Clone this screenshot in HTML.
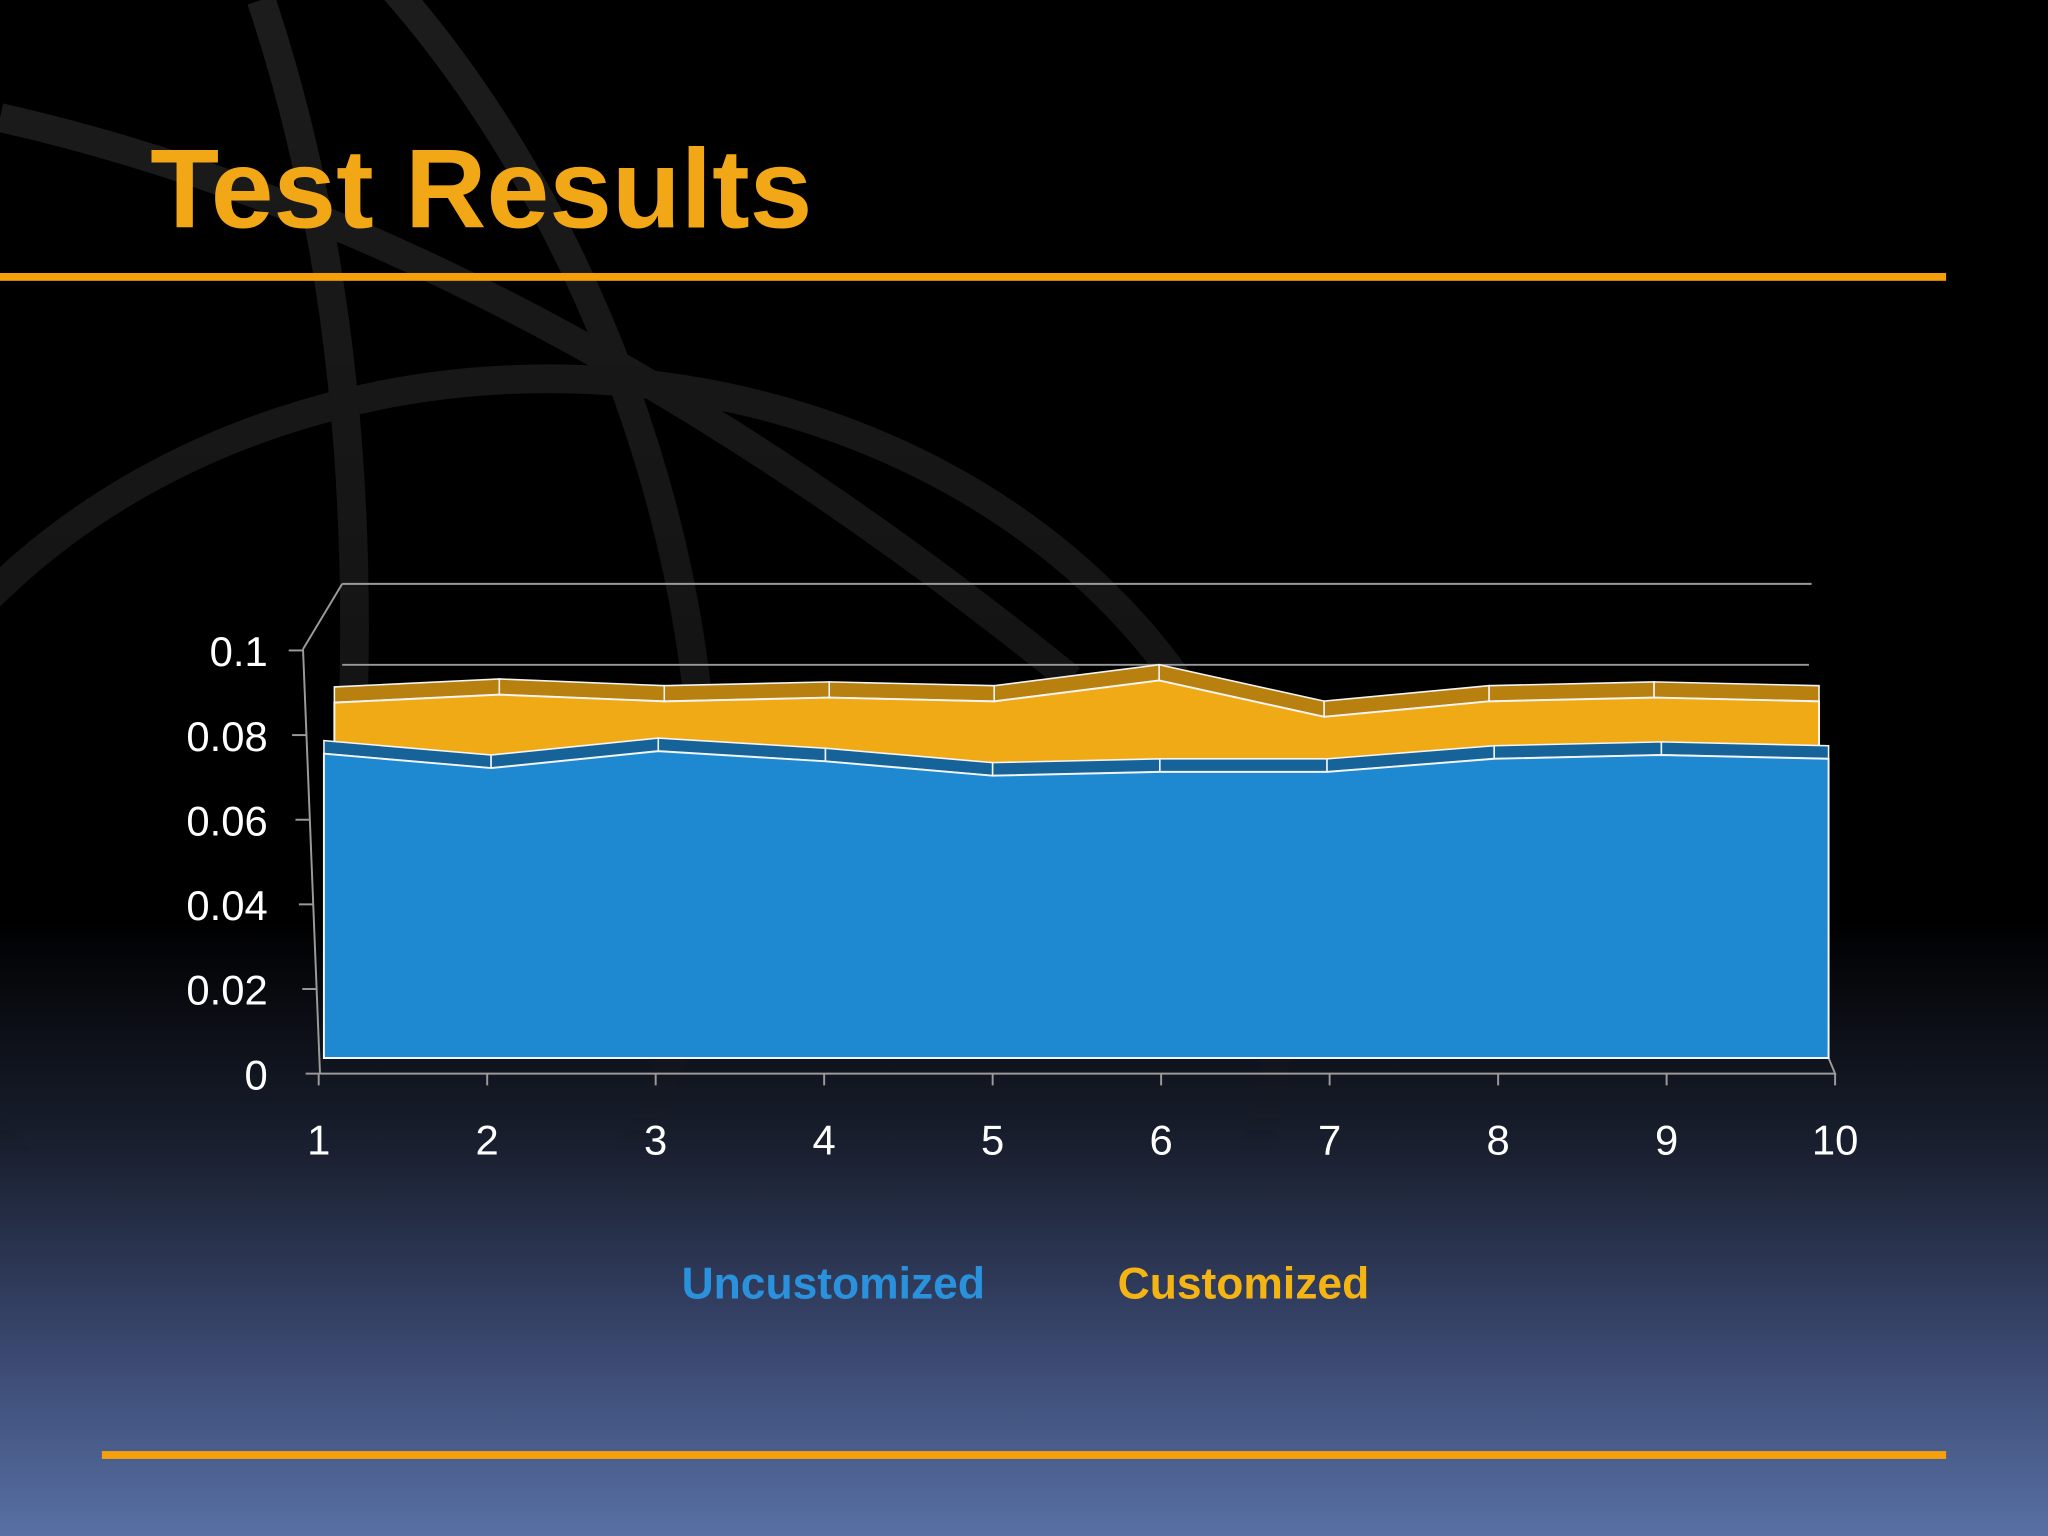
<!DOCTYPE html>
<html><head><meta charset="utf-8"><style>
html,body{margin:0;padding:0;background:#000;width:2048px;height:1536px;overflow:hidden;}
svg{display:block;}
</style></head><body>
<svg id="chart" xmlns="http://www.w3.org/2000/svg" width="2048" height="1536" viewBox="0 0 1568 1176">
<defs>
<linearGradient id="bg" x1="0" y1="0" x2="0" y2="1">
<stop offset="0" stop-color="#000"/>
<stop offset="0.6" stop-color="#000"/>
<stop offset="0.75" stop-color="#1a2030"/>
<stop offset="0.88" stop-color="#3a4870"/>
<stop offset="1" stop-color="#5870a4"/>
</linearGradient>
<linearGradient id="fade" x1="0" y1="0" x2="0" y2="1">
<stop offset="0" stop-color="#fff" stop-opacity="1"/>
<stop offset="0.6" stop-color="#fff" stop-opacity="0.6"/>
<stop offset="0.75" stop-color="#fff" stop-opacity="0"/>
</linearGradient>
<mask id="arcmask"><rect x="0" y="0" width="1568" height="1176" fill="url(#fade)"/></mask>
</defs>
<rect x="0" y="0" width="1568" height="1176" fill="url(#bg)"/>
<g fill="none" stroke="#1c1c1c" stroke-width="22" mask="url(#arcmask)">
<ellipse cx="420" cy="760" rx="560" ry="470"/>
<ellipse cx="140" cy="420" rx="360" ry="620" transform="rotate(-20 140 420)"/>
<path d="M0 90 Q400 180 820 520"/>
<path d="M200 0 Q300 300 260 700"/>
</g>
<text x="115" y="174" font-family="Liberation Sans, sans-serif" font-weight="bold" font-size="86" textLength="507" lengthAdjust="spacingAndGlyphs" fill="#f2a816">Test Results</text>
<rect x="0" y="209" width="1490" height="6" fill="#f5a00a"/>
<rect x="78" y="1111" width="1412" height="6" fill="#f5a00a"/>
<g id="plot"></g>
<text x="638" y="994" text-anchor="middle" font-family="Liberation Sans, sans-serif" font-weight="bold" font-size="34" fill="#2a92dc">Uncustomized</text>
<text x="952" y="994" text-anchor="middle" font-family="Liberation Sans, sans-serif" font-weight="bold" font-size="34" fill="#f4b414">Customized</text>
</svg>
<script>
const categories = [1,2,3,4,5,6,7,8,9,10];
const uncustomized = [0.0719,0.0685,0.0725,0.0701,0.0667,0.0676,0.0676,0.0707,0.0716,0.0707];
const customized = [0.0819,0.0838,0.0822,0.0831,0.0822,0.0872,0.0785,0.0822,0.0831,0.0822];
const yTicks = [0,0.02,0.04,0.06,0.08,0.1];
const yTickLabels = ["0","0.02","0.04","0.06","0.08","0.1"];

const NS = "http://www.w3.org/2000/svg";
const g = document.getElementById('plot');
function el(tag, attrs){const e=document.createElementNS(NS,tag);for(const k in attrs)e.setAttribute(k,attrs[k]);g.appendChild(e);return e;}
const yAxis = v => 822 - v*3240;
const xAxis = i => 244 + i*129;
const xBlue = i => 248 + i*128;
const yBlue = v => 810 - v*3240;
const xOr = i => 256 + i*126.3;
const yOr = v => 800 - v*3200;

let l;
l = el('path',{d:'M262 447 L1387 447 M262 509 L1385 509 M232 497 L262 447 M232 497 L245 822 M245 822 L1405 822 L1400 810',stroke:'#9a9a9a','stroke-width':1.5,fill:'none'});


yTicks.forEach((v,k)=>{
  const y = yAxis(v);
  const x = 245 - (822-y)*0.04;
  const t = el('line',{x1:x-11,y1:y,x2:x,y2:y,stroke:'#9a9a9a','stroke-width':1.5});
  
  
  const tx = el('text',{x:205,y:y+12,'text-anchor':'end','font-family':'Liberation Sans, sans-serif','font-size':32,fill:'#fff'});
  tx.textContent = yTickLabels[k];
  
  
});
categories.forEach((c,i)=>{
  const x = xAxis(i);
  const t = el('line',{x1:x,y1:822,x2:x,y2:831,stroke:'#9a9a9a','stroke-width':1.5});
  
  
  const tx = el('text',{x:x,y:884,'text-anchor':'middle','font-family':'Liberation Sans, sans-serif','font-size':32,fill:'#fff'});
  tx.textContent = c;
  
  
});

function series(vals, xf, yf, depth, faceCol, topCol, name){
  const n = vals.length;
  for(let i=0;i<n-1;i++){
    const a=[xf(i),yf(vals[i])], b=[xf(i+1),yf(vals[i+1])];
    const p = el('polygon',{points:`${a[0]},${a[1]} ${b[0]},${b[1]} ${b[0]},${b[1]-depth} ${a[0]},${a[1]-depth}`,fill:topCol,stroke:'#f4f4f4','stroke-width':1.2});
    
    
  }
  let pts = `${xf(0)},${yf(0)} `;
  vals.forEach((v,i)=>{pts += `${xf(i)},${yf(v)} `;});
  pts += `${xf(n-1)},${yf(0)}`;
  const f = el('polygon',{points:pts,fill:faceCol,stroke:'#f4f4f4','stroke-width':1.5});
  
  
}
series(customized, xOr, yOr, 12, '#f0aa16', '#b8800e', 'customized');
series(uncustomized, xBlue, yBlue, 10, '#1e88d0', '#16639a', 'uncustomized');
</script>
</body></html>
